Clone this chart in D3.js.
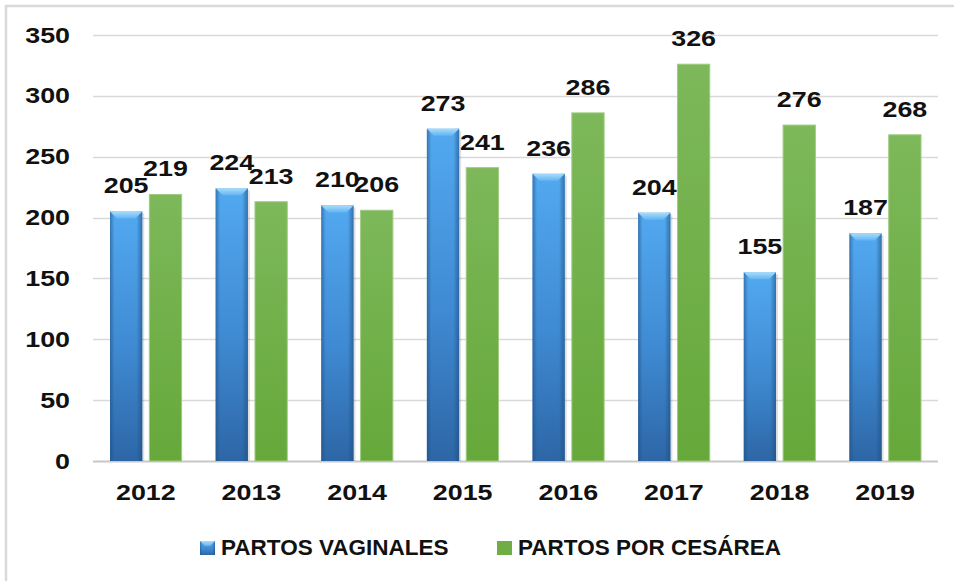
<!DOCTYPE html>
<html>
<head>
<meta charset="utf-8">
<script src="https://cdnjs.cloudflare.com/ajax/libs/d3/7.8.5/d3.min.js"></script>
<style>
  body { margin: 0; background: #fff; }
  svg { display: block; }
</style>
</head>
<body>
<svg width="954" height="581"></svg>
<script>
var years = ["2012", "2013", "2014", "2015", "2016", "2017", "2018", "2019"];
var vaginales = [205, 224, 210, 273, 236, 204, 155, 187];
var cesarea = [219, 213, 206, 241, 286, 326, 276, 268];
var seriesNames = ["PARTOS VAGINALES", "PARTOS POR CESÁREA"];
var yTicks = [0, 50, 100, 150, 200, 250, 300, 350];

var svg = d3.select("svg");
var font = "'Liberation Sans', Arial, sans-serif";

// the numbers in the original are wider than plain Arial, stretch them a bit
function stretch(sel, k) {
  sel.attr("transform", function() {
    var tx = +this.getAttribute("x") || 0;
    return "translate(" + tx + ",0) scale(" + k + ",1) translate(" + (-tx) + ",0)";
  });
}

// chart frame (only left/top edge visible in the original)
svg.append("rect")
   .attr("x", 6).attr("y", 6)
   .attr("width", 1000).attr("height", 700)
   .attr("fill", "#fff")
   .attr("stroke", "#d9d9d9")
   .attr("stroke-width", 2.5);

var margin = {top: 35, left: 93, right: 16, bottom: 120};
var width = 954 - margin.left - margin.right;
var height = 581 - margin.top - margin.bottom;

var g = svg.append("g")
           .attr("transform", "translate(" + margin.left + "," + margin.top + ")");

var x0 = d3.scaleBand().domain(years).range([0, width]).paddingInner(0).paddingOuter(0);
var x1 = d3.scaleBand().domain([0, 1]).range([17, x0.bandwidth() - 17]).paddingInner(0.18);
var y = d3.scaleLinear().domain([0, 350]).range([height, 0]);

var defs = svg.append("defs");

var blueV = defs.append("linearGradient").attr("id", "blueV")
  .attr("x1", 0).attr("y1", 0).attr("x2", 0).attr("y2", 1);
blueV.append("stop").attr("offset", "0%").attr("stop-color", "#52a9f0");
blueV.append("stop").attr("offset", "55%").attr("stop-color", "#3f8ad2");
blueV.append("stop").attr("offset", "100%").attr("stop-color", "#2d66a6");

var blueH = defs.append("linearGradient").attr("id", "blueH")
  .attr("x1", 0).attr("y1", 0).attr("x2", 1).attr("y2", 0);
blueH.append("stop").attr("offset", "0%").attr("stop-color", "#1d4c80").attr("stop-opacity", 0.55);
blueH.append("stop").attr("offset", "14%").attr("stop-color", "#1d4c80").attr("stop-opacity", 0);
blueH.append("stop").attr("offset", "82%").attr("stop-color", "#1d4c80").attr("stop-opacity", 0);
blueH.append("stop").attr("offset", "100%").attr("stop-color", "#1d4c80").attr("stop-opacity", 0.6);

var blueTop = defs.append("linearGradient").attr("id", "blueTop")
  .attr("x1", 0).attr("y1", 0).attr("x2", 0).attr("y2", 1);
blueTop.append("stop").attr("offset", "0%").attr("stop-color", "#a9dcfb");
blueTop.append("stop").attr("offset", "100%").attr("stop-color", "#62b4f2");

var greenV = defs.append("linearGradient").attr("id", "greenV")
  .attr("x1", 0).attr("y1", 0).attr("x2", 0).attr("y2", 1);
greenV.append("stop").attr("offset", "0%").attr("stop-color", "#7db85a");
greenV.append("stop").attr("offset", "100%").attr("stop-color", "#66a83a");

// gridlines
g.append("g")
  .selectAll("line")
  .data(yTicks)
  .enter().append("line")
  .attr("x1", 0).attr("x2", width)
  .attr("y1", function(d) { return Math.round(y(d)) + 0.5; })
  .attr("y2", function(d) { return Math.round(y(d)) + 0.5; })
  .attr("stroke", function(d) { return d === 0 ? "#c8c8c8" : "#d9d9d9"; })
  .attr("stroke-width", function(d) { return d === 0 ? 2 : 1.3; });

// y axis labels
var yAxis = g.append("g")
  .call(d3.axisLeft(y).tickValues(yTicks).tickSize(0).tickPadding(23));
yAxis.select(".domain").remove();
yAxis.selectAll("text")
  .attr("font-family", font)
  .attr("font-weight", "bold")
  .attr("font-size", 22)
  .attr("fill", "#111")
  .call(stretch, 1.22);

// x axis labels
var xAxis = g.append("g")
  .attr("transform", "translate(0," + height + ")")
  .call(d3.axisBottom(x0).tickSize(0).tickPadding(23));
xAxis.select(".domain").remove();
xAxis.selectAll("text")
  .attr("font-family", font)
  .attr("font-weight", "bold")
  .attr("font-size", 22)
  .attr("fill", "#111")
  .call(stretch, 1.22);

var data = years.map(function(yr, i) {
  return {year: yr, values: [vaginales[i], cesarea[i]]};
});

var groups = g.selectAll(".year")
  .data(data)
  .enter().append("g")
  .attr("class", "year")
  .attr("transform", function(d) { return "translate(" + x0(d.year) + ",0)"; });

// blue bars with bevel
var blue = groups.append("g");
blue.append("rect")
  .attr("x", x1(0) + 2).attr("y", function(d) { return y(d.values[0]) + 2; })
  .attr("width", x1.bandwidth())
  .attr("height", function(d) { return height - y(d.values[0]) - 2; })
  .attr("fill", "#000").attr("opacity", 0.12);
blue.append("rect")
  .attr("x", x1(0)).attr("y", function(d) { return y(d.values[0]); })
  .attr("width", x1.bandwidth())
  .attr("height", function(d) { return height - y(d.values[0]); })
  .attr("fill", "url(#blueV)");
blue.append("rect")
  .attr("x", x1(0)).attr("y", function(d) { return y(d.values[0]); })
  .attr("width", x1.bandwidth())
  .attr("height", function(d) { return height - y(d.values[0]); })
  .attr("fill", "url(#blueH)");
blue.append("path")
  .attr("d", function(d) {
    var bx = x1(0), bw = x1.bandwidth(), by = y(d.values[0]), c = 7;
    return "M" + bx + "," + by + "L" + (bx + bw) + "," + by +
           "L" + (bx + bw - c) + "," + (by + c) + "L" + (bx + c) + "," + (by + c) + "Z";
  })
  .attr("fill", "url(#blueTop)");

// green bars
groups.append("rect")
  .attr("x", x1(1)).attr("y", function(d) { return y(d.values[1]); })
  .attr("width", x1.bandwidth())
  .attr("height", function(d) { return height - y(d.values[1]); })
  .attr("fill", "url(#greenV)")
  .attr("stroke", "#9fcb80")
  .attr("stroke-width", 1);

// value labels
groups.selectAll(".lbl")
  .data(function(d) { return d.values; })
  .enter().append("text")
  .attr("class", "lbl")
  .attr("x", function(d, i) { return x1(i) + x1.bandwidth() / 2; })
  .attr("y", function(d) { return y(d) - 18; })
  .attr("text-anchor", "middle")
  .attr("font-family", font)
  .attr("font-weight", "bold")
  .attr("font-size", 22)
  .attr("fill", "#111")
  .text(function(d) { return d; })
  .call(stretch, 1.22);

// legend
var legend = svg.append("g");
var legendX = [200, 497];
var legendFill = ["url(#blueV)", "#70ad47"];
var leg = legend.selectAll(".key")
  .data(seriesNames)
  .enter().append("g")
  .attr("class", "key")
  .attr("transform", function(d, i) { return "translate(" + legendX[i] + ",541)"; });
leg.append("rect")
  .attr("width", 15).attr("height", 14)
  .attr("fill", function(d, i) { return legendFill[i]; });
leg.filter(function(d, i) { return i === 0; })
  .append("rect")
  .attr("width", 15).attr("height", 14)
  .attr("fill", "url(#blueH)");
leg.filter(function(d, i) { return i === 0; })
  .append("path")
  .attr("d", "M0,0L15,0L10,5L5,5Z")
  .attr("fill", "url(#blueTop)");
leg.append("text")
  .attr("x", 21).attr("y", 14)
  .attr("font-family", font)
  .attr("font-weight", "bold")
  .attr("font-size", 22.5)
  .attr("fill", "#111")
  .text(function(d) { return d; });
</script>
</body>
</html>
